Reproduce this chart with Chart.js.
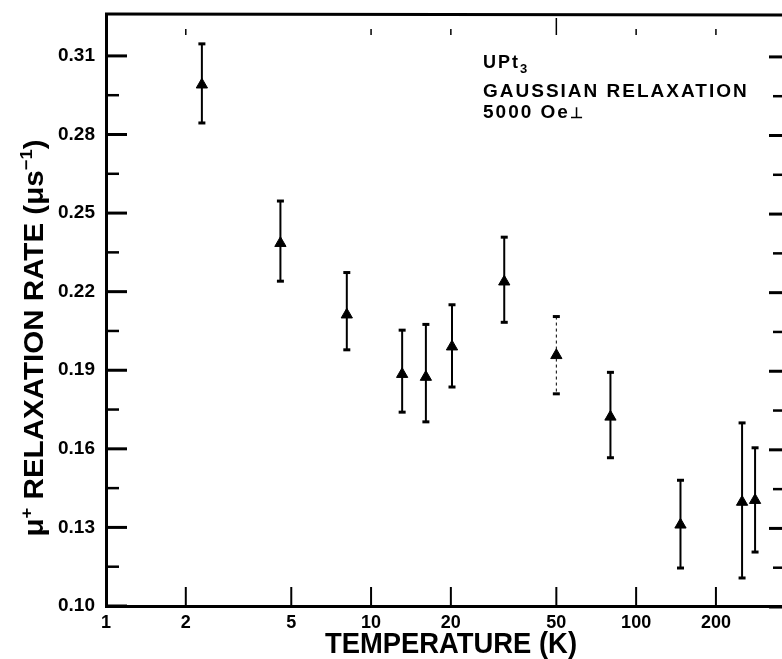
<!DOCTYPE html>
<html lang="en">
<head>
  <meta charset="UTF-8">
  <style>
    html, body { margin: 0; padding: 0; background: #fff; }
    #wrap { width: 782px; height: 659px; }
  </style>
</head>
<body>
  <div id="wrap"><canvas id="myChart" width="782" height="659"></canvas></div>

  <script src="https://cdn.jsdelivr.net/npm/chart.js"></script>
  <script>
    // Temperatures (K) and Gaussian relaxation rates (us^-1)
    const temps  = [2.3, 4.55, 8.1, 13.1, 16.1, 20.2, 31.8, 50, 80, 147, 251, 281];
    const rates  = [0.299, 0.2385, 0.2112, 0.1885, 0.1874, 0.199, 0.2238, 0.1957, 0.1722, 0.131, 0.1397, 0.1404];
    const errHi  = [0.3146, 0.2546, 0.2273, 0.2053, 0.2075, 0.215, 0.2408, 0.2105, 0.1892, 0.148, 0.1699, 0.1604];
    const errLo  = [0.2844, 0.224, 0.1978, 0.174, 0.1703, 0.1836, 0.2083, 0.181, 0.1566, 0.1145, 0.1107, 0.1206];

    // axis ticks
    const xTicks = [1, 2, 5, 10, 20, 50, 100, 200];
    const xTopTicks = [2, 10, 20, 50, 100, 200];
    const yTicks = [0.10, 0.13, 0.16, 0.19, 0.22, 0.25, 0.28, 0.31];
    const yMinor = [0.115, 0.145, 0.175, 0.205, 0.235, 0.265, 0.295];

    const FONT = "'Liberation Sans', Arial, sans-serif";

    function line(ctx, x1, y1, x2, y2) {
      ctx.beginPath();
      ctx.moveTo(x1, y1);
      ctx.lineTo(x2, y2);
      ctx.stroke();
    }

    // draw a row of text pieces, some raised as superscripts, squeezed to a length
    function drawPieces(ctx, pieces, size, length) {
      let total = 0;
      pieces.forEach(p => {
        ctx.font = 'bold ' + (p.sup ? size * 0.62 : size) + 'px ' + FONT;
        p.w = ctx.measureText(p.t).width;
        total += p.w;
      });
      const sx = length / total;
      ctx.save();
      ctx.scale(sx, 1);
      let cx = -total / 2;
      pieces.forEach(p => {
        ctx.font = 'bold ' + (p.sup ? size * 0.62 : size) + 'px ' + FONT;
        ctx.fillText(p.t, cx, p.sup ? -size * 0.42 : 0);
        cx += p.w;
      });
      ctx.restore();
    }

    // error bars under the markers
    const errorBars = {
      id: 'errorBars',
      beforeDatasetsDraw(chart) {
        const { ctx, scales: { x, y } } = chart;
        ctx.save();
        ctx.strokeStyle = '#000';
        temps.forEach((t, i) => {
          const px = x.getPixelForValue(t);
          const top = y.getPixelForValue(errHi[i]);
          const bot = y.getPixelForValue(errLo[i]);
          // the 50 K bar is faint and broken in the original print
          ctx.lineWidth = t === 50 ? 1 : 2;
          ctx.setLineDash(t === 50 ? [3, 3] : []);
          line(ctx, px, top, px, bot);
          ctx.setLineDash([]);
          ctx.lineWidth = 3;
          line(ctx, px - 3.5, top, px + 3.5, top);
          line(ctx, px - 3.5, bot, px + 3.5, bot);
        });
        ctx.restore();
      }
    };

    // frame ticks, titles and the label block
    const decor = {
      id: 'decor',
      afterDraw(chart) {
        const { ctx, chartArea: a, scales: { x, y } } = chart;
        ctx.save();
        ctx.strokeStyle = '#000';
        ctx.fillStyle = '#000';

        // top border
        ctx.lineWidth = 3;
        line(ctx, a.left - 1, a.top, a.right + 2, a.top + 1);

        // left + right y ticks
        yTicks.forEach(v => {
          const py = y.getPixelForValue(v);
          ctx.lineWidth = 3;
          line(ctx, a.left, py, a.left + 21, py);
          line(ctx, a.right - 12, py + 1, a.right + 2, py + 1);
        });
        yMinor.forEach(v => {
          const py = y.getPixelForValue(v);
          ctx.lineWidth = 2.5;
          line(ctx, a.left, py, a.left + 13, py);
          line(ctx, a.right - 8, py + 1, a.right + 2, py + 1);
        });

        // bottom ticks
        ctx.lineWidth = 2;
        xTicks.slice(1).forEach(v => {
          const px = x.getPixelForValue(v);
          line(ctx, px, a.bottom, px, a.bottom - 19);
        });
        // top ticks
        ctx.lineWidth = 1.5;
        xTopTicks.forEach(v => {
          const px = x.getPixelForValue(v);
          line(ctx, px, v === 50 ? a.top + 4 : a.top + 15, px, a.top + 21);
        });

        // x title
        ctx.textAlign = 'left';
        ctx.textBaseline = 'alphabetic';
        ctx.save();
        ctx.translate(451, 653);
        drawPieces(ctx, [{ t: 'TEMPERATURE (K)' }], 29, 252);
        ctx.restore();

        // y title
        ctx.save();
        ctx.translate(43, 338);
        ctx.rotate(-Math.PI / 2);
        drawPieces(ctx, [
          { t: 'μ' }, { t: '+', sup: true },
          { t: ' RELAXATION RATE (μs' }, { t: '−1', sup: true }, { t: ')' }
        ], 27, 397);
        ctx.restore();

        // label block
        ctx.letterSpacing = '2px';
        ctx.font = 'bold 18px ' + FONT;
        ctx.fillText('UPt', 483, 68);
        const w = ctx.measureText('UPt').width;
        ctx.font = 'bold 13px ' + FONT;
        ctx.fillText('3', 483 + w, 73);
        ctx.font = 'bold 19px ' + FONT;
        ctx.fillText('GAUSSIAN RELAXATION', 483, 97);
        ctx.fillText('5000 Oe', 483, 118);
        const w2 = ctx.measureText('5000 Oe').width;
        ctx.letterSpacing = '0px';
        ctx.font = 'bold 15px ' + FONT;
        ctx.fillText('⊥', 483 + w2, 118);
        ctx.restore();
      }
    };

    const ctx = document.getElementById('myChart').getContext('2d');
    const myChart = new Chart(ctx, {
      type: 'scatter',
      data: {
        datasets: [{
          data: temps.map((t, i) => ({ x: t, y: rates[i] })),
          pointStyle: 'triangle',
          pointRadius: 6.5,
          backgroundColor: '#000',
          borderColor: '#000',
          borderWidth: 1
        }]
      },
      options: {
        responsive: false,
        animation: false,
        layout: { autoPadding: false, padding: { left: 0, right: 1, top: 14, bottom: 0 } },
        plugins: {
          legend: { display: false },
          tooltip: { enabled: false }
        },
        scales: {
          x: {
            type: 'logarithmic',
            min: 1,
            max: 352,
            afterBuildTicks: s => { s.ticks = xTicks.map(v => ({ value: v })); },
            afterFit: s => { s.height = 53; s.paddingLeft = 0; s.paddingRight = 0; },
            grid: { display: false, drawTicks: false },
            border: { display: true, color: '#000', width: 3 },
            ticks: {
              autoSkip: false,
              maxRotation: 0,
              padding: 6,
              color: '#000',
              font: { family: FONT, size: 18, weight: 'bold' },
              callback: v => String(v)
            }
          },
          y: {
            min: 0.10,
            max: 0.326,
            afterBuildTicks: s => { s.ticks = yTicks.map(v => ({ value: v })); },
            afterFit: s => { s.width = 106; s.paddingTop = 0; s.paddingBottom = 0; },
            grid: { display: false, drawTicks: false },
            border: { display: true, color: '#000', width: 3 },
            ticks: {
              padding: 11,
              color: '#000',
              font: { family: FONT, size: 19, weight: 'bold' },
              callback: v => v.toFixed(2)
            }
          }
        }
      },
      plugins: [errorBars, decor]
    });
  </script>
</body>
</html>
